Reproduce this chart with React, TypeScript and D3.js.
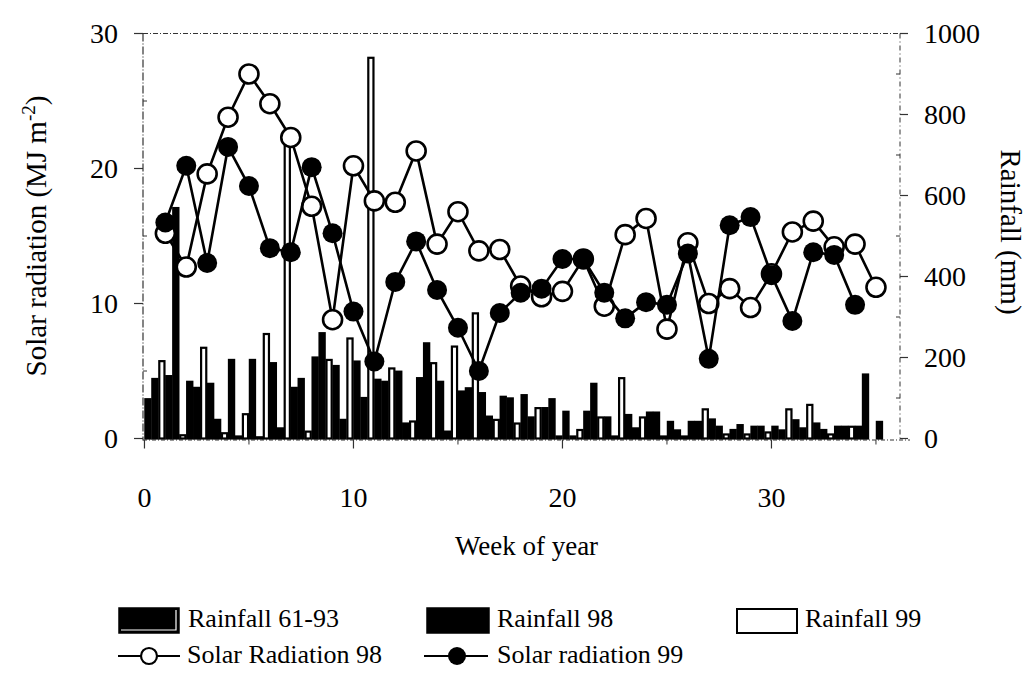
import React from "react";
import * as d3 from "d3";

// Weekly rainfall (mm), weeks 1..36
const weeks = d3.range(1, 37);
const rain6193 = [97, 154, 140, 135, 194, 194, 186, 125, 200, 179, 190, 145, 165, 149, 140, 116, 112, 103, 107, 75, 66, 66, 52, 58, 64, 41, 41, 47, 21, 29, 29, 45, 37, 29, 29, 41];
const rain98 = [147, 569, 125, 46, 5, 3, 25, 147, 260, 46, 100, 140, 37, 235, 17, 124, 54, 99, 52, 97, 5, 135, 5, 25, 64, 20, 41, 29, 33, 29, 20, 25, 21, 29, 158, 0];
const rain99 = [191, 8, 224, 13, 60, 258, 754, 17, 194, 247, 940, 173, 42, 186, 227, 309, 46, 37, 75, 5, 21, 52, 149, 52, 5, 5, 72, 10, 10, 15, 72, 83, 10, 29, 0, 0];

// Weekly solar radiation (MJ m-2)
const solar98 = [15.2, 12.7, 19.6, 23.8, 27.0, 24.8, 22.3, 17.2, 8.8, 20.2, 17.6, 17.5, 21.3, 14.4, 16.8, 13.9, 14.0, 11.3, 10.5, 10.9, 13.3, 9.8, 15.1, 16.3, 8.1, 14.5, 10.0, 11.1, 9.7, 12.2, 15.3, 16.1, 14.2, 14.4, 11.2];
const solar99 = [16.0, 20.2, 13.0, 21.6, 18.7, 14.1, 13.8, 20.1, 15.2, 9.4, 5.7, 11.6, 14.6, 11.0, 8.2, 5.0, 9.3, 10.8, 11.1, 13.3, 13.3, 10.8, 8.9, 10.1, 9.9, 13.7, 5.9, 15.8, 16.4, 12.1, 8.7, 13.8, 13.6, 9.9];

const xTicks = [0, 10, 20, 30];
const xMinorTicks = [5, 15, 25, 35];
const leftTicks = [0, 10, 20, 30];
const leftMinor = [5, 15, 25];
const rightTicks = [0, 200, 400, 600, 800, 1000];
const rightMinor = [100, 300, 500, 700, 900];

const rainSeries = ["r6193", "r98", "r99"];

const FONT = "'Liberation Serif', 'Times New Roman', serif";

export default function App() {
  const W = 1036, H = 673;
  const left = 143, right = 900, top = 33.5, bottom = 438.5;

  const x = d3.scaleLinear().domain([-0.07, 36.15]).range([left, right]);
  const yL = d3.scaleLinear().domain([0, 30]).range([bottom, top]);
  const yR = d3.scaleLinear().domain([0, 1000]).range([bottom, top]);
  const inner = d3.scaleBand().domain(rainSeries).range([0, x(1) - x(0)]).padding(0);

  const rainRows = weeks.map((w, i) => ({ w, r6193: rain6193[i], r98: rain98[i], r99: rain99[i] }));

  const line = d3.line<number>().x((_, i) => x(i + 1)).y((v) => yL(v));

  const axisStroke = "#333";

  return (
    <svg width={W} height={H} style={{ position: "absolute", left: 0, top: 0, background: "#fff" }} fontFamily={FONT}>
      {/* frame */}
      <line x1={left} x2={right} y1={top} y2={top} stroke={axisStroke} strokeWidth={1} strokeDasharray="5 2 1 2" />
      <line x1={left} x2={left} y1={top} y2={bottom + 2} stroke={axisStroke} strokeWidth={1.2} strokeDasharray="8 2 1 2" />
      <line x1={right} x2={right} y1={top} y2={bottom + 2} stroke={axisStroke} strokeWidth={1} strokeDasharray="5 3 1 3" />
      <line x1={left} x2={right + 10} y1={bottom + 1.5} y2={bottom + 1.5} stroke={axisStroke} strokeWidth={1} strokeDasharray="4 2 1 2" />

      {/* rainfall bars */}
      {rainRows.map((row) => (
        <g key={row.w} transform={`translate(${x(row.w - 1)},0)`}>
          {rainSeries.map((s) => {
            const v = (row as any)[s] as number;
            if (v <= 0) return null;
            const isWhite = s === "r99";
            return (
              <rect
                key={s}
                x={inner(s)! + 0.9}
                y={yR(v)}
                width={inner.bandwidth() - 1.8}
                height={bottom - yR(v)}
                fill={isWhite ? "#fff" : "#000"}
                stroke="#000"
                strokeWidth={2.2}
              />
            );
          })}
        </g>
      ))}

      {/* solar radiation lines */}
      <path d={line(solar98) || ""} fill="none" stroke="#000" strokeWidth={2.6} />
      {solar98.map((v, i) => (
        <circle key={"o" + i} cx={x(i + 1)} cy={yL(v)} r={9.5} fill="#fff" stroke="#000" strokeWidth={2.6} />
      ))}
      <path d={line(solar99) || ""} fill="none" stroke="#000" strokeWidth={2.6} />
      {solar99.map((v, i) => (
        <circle key={"f" + i} cx={x(i + 1)} cy={yL(v)} r={10} fill="#000" />
      ))}

      {/* left axis */}
      {leftTicks.map((t) => (
        <g key={t}>
          <line x1={left - 9} x2={left} y1={yL(t)} y2={yL(t)} stroke={axisStroke} strokeWidth={1.2} />
          <text x={118} y={yL(t)} dy="0.35em" textAnchor="end" fontSize={28}>{t}</text>
        </g>
      ))}
      {leftMinor.map((t) => (
        <line key={t} x1={left} x2={left + 4} y1={yL(t)} y2={yL(t)} stroke={axisStroke} strokeWidth={1} />
      ))}

      {/* right axis */}
      {rightTicks.map((t) => (
        <g key={t}>
          <line x1={right} x2={right + 8} y1={yR(t)} y2={yR(t)} stroke={axisStroke} strokeWidth={1.2} />
          <text x={924} y={yR(t)} dy="0.35em" textAnchor="start" fontSize={28}>{t}</text>
        </g>
      ))}
      {rightMinor.map((t) => (
        <line key={t} x1={right - 4} x2={right} y1={yR(t)} y2={yR(t)} stroke={axisStroke} strokeWidth={1} />
      ))}

      {/* bottom axis */}
      {xTicks.map((t) => (
        <g key={t}>
          <line x1={x(t)} x2={x(t)} y1={bottom + 1.5} y2={bottom + 10} stroke={axisStroke} strokeWidth={1.2} />
          <text x={x(t)} y={497} dy="0.35em" textAnchor="middle" fontSize={28}>{t}</text>
        </g>
      ))}
      {xMinorTicks.map((t) => (
        <line key={t} x1={x(t)} x2={x(t)} y1={bottom + 1.5} y2={bottom + 6} stroke={axisStroke} strokeWidth={1} />
      ))}

      {/* axis titles */}
      <text x={(left + right) / 2 + 5} y={546} dy="0.35em" textAnchor="middle" fontSize={27}>Week of year</text>
      <text transform={`translate(46,236) rotate(-90)`} textAnchor="middle" fontSize={29}>
        Solar radiation (MJ m<tspan dy={-11} fontSize={19}>-2</tspan><tspan dy={11}>)</tspan>
      </text>
      <text transform={`translate(1001,232) rotate(90)`} textAnchor="middle" fontSize={29}>Rainfall (mm)</text>

      {/* legend */}
      <g fontSize={26}>
        <rect x={119} y={608} width={60} height={25} fill="#000" stroke="#000" strokeWidth={1.5} />
        <polyline points="121,630 176,630 176,610" fill="none" stroke="#fff" strokeWidth={1.2} />
        <text x={188} y={627}>Rainfall 61-93</text>

        <rect x={427} y={608} width={62} height={25} fill="#000" stroke="#000" strokeWidth={1.5} />
        <text x={497} y={627}>Rainfall 98</text>

        <rect x={737} y={609} width={60} height={24} fill="#fff" stroke="#000" strokeWidth={2} />
        <text x={805} y={627}>Rainfall 99</text>

        <line x1={118} x2={180} y1={656} y2={656} stroke="#000" strokeWidth={2.2} />
        <circle cx={149} cy={656} r={8} fill="#fff" stroke="#000" strokeWidth={2.2} />
        <text x={187} y={663}>Solar Radiation 98</text>

        <line x1={424} x2={488} y1={656} y2={656} stroke="#000" strokeWidth={2.2} />
        <circle cx={457} cy={656} r={9} fill="#000" />
        <text x={497} y={663}>Solar radiation 99</text>
      </g>
    </svg>
  );
}
